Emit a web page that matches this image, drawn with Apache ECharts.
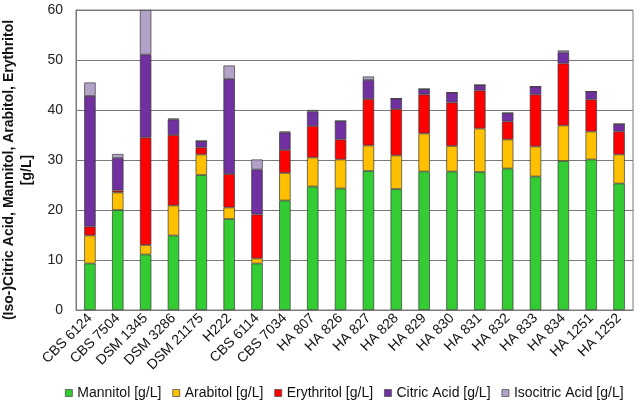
<!DOCTYPE html>
<html><head><meta charset="utf-8">
<script src="https://cdn.jsdelivr.net/npm/echarts@6/dist/echarts.min.js"></script>
<style>html,body{margin:0;padding:0;background:#fff}#c{width:638px;height:407px}</style>
</head><body><div id="c"></div>
<script>
const categories = ["CBS 6124","CBS 7504","DSM 1345","DSM 3286","DSM 21175","H222","CBS 6114","CBS 7034","HA 807","HA 826","HA 827","HA 828","HA 829","HA 830","HA 831","HA 832","HA 833","HA 834","HA 1251","HA 1252"];
const mannitol   = [9.3,20.0,11.1,14.9,27.0,18.2,9.3,21.9,24.7,24.3,27.8,24.2,27.7,27.7,27.6,28.3,26.7,29.8,30.1,25.3];
const arabitol   = [5.6,3.5,1.9,6.0,4.1,2.3,1.0,5.5,5.8,5.8,5.1,6.7,7.6,5.1,8.7,5.8,6.0,7.1,5.6,5.8];
const erythritol = [1.8,0.4,21.5,14.1,1.4,6.7,8.8,4.6,6.3,4.0,9.3,9.3,7.8,8.7,7.6,3.6,10.4,12.4,6.4,4.6];
const citric     = [26.1,6.5,16.6,3.1,1.3,19.0,9.0,3.5,2.9,3.7,3.8,2.1,1.1,2.0,1.1,1.7,1.6,2.2,1.6,1.5];
const isocitric  = [2.7,0.8,8.9,0.2,0,2.7,2.0,0.2,0.3,0,0.7,0,0,0,0,0,0,0.4,0,0];
const yTicks = [0,10,20,30,40,50,60];

const seriesDefs = [
  ["Mannitol [g/L]", mannitol, "#33CC33"],
  ["Arabitol [g/L]", arabitol, "#FFC000"],
  ["Erythritol [g/L]", erythritol, "#FF0000"],
  ["Citric Acid [g/L]", citric, "#7030A0"],
  ["Isocitric Acid [g/L]", isocitric, "#B3A2C7"]
];
const font = "Liberation Sans, Arial, sans-serif";
const chart = echarts.init(document.getElementById('c'), null, {renderer:'canvas'});
chart.setOption({
  animation:false,
  textStyle:{fontFamily:font},
  grid:{left:76,right:5,top:10,bottom:97,show:true,borderColor:'#7a7a7a',borderWidth:1,
        containLabel:false, outerBoundsMode:'none'},
  legend:{
    left:60, top:381, width:600, itemWidth:7, itemHeight:7, itemGap:11, icon:'rect',
    itemStyle:{borderColor:'#444',borderWidth:0.7},
    textStyle:{fontFamily:font,fontSize:14,color:'#111'},
    data:seriesDefs.map(s=>s[0])
  },
  xAxis:{
    type:'category', data:categories,
    axisLine:{lineStyle:{color:'#7a7a7a'}},
    axisTick:{show:false},
    axisLabel:{rotate:45,interval:0,fontSize:14,color:'#111',margin:6,fontFamily:font}
  },
  yAxis:{
    type:'value', min:yTicks[0], max:yTicks[yTicks.length-1], interval:10,
    name:'(Iso-)Citric Acid, Mannitol, Arabitol, Erythritol\n[g/L]',
    nameLocation:'middle', nameRotate:90, nameGap:37,
    nameTextStyle:{fontWeight:'bold',fontSize:14,color:'#111',fontFamily:font,lineHeight:18,padding:[0,20,0,0]},
    axisLine:{show:true,lineStyle:{color:'#7a7a7a'}},
    axisTick:{show:false},
    splitLine:{lineStyle:{color:'#7a7a7a',width:1}},
    axisLabel:{fontSize:14,color:'#222',margin:13,fontFamily:font}
  },
  series:seriesDefs.map(s=>({
    name:s[0], type:'bar', stack:'all', data:s[1], barWidth:'41%',
    itemStyle:{color:s[2],borderColor:'#3a3a3a',borderWidth:0.7}
  }))
});
</script></body></html>
